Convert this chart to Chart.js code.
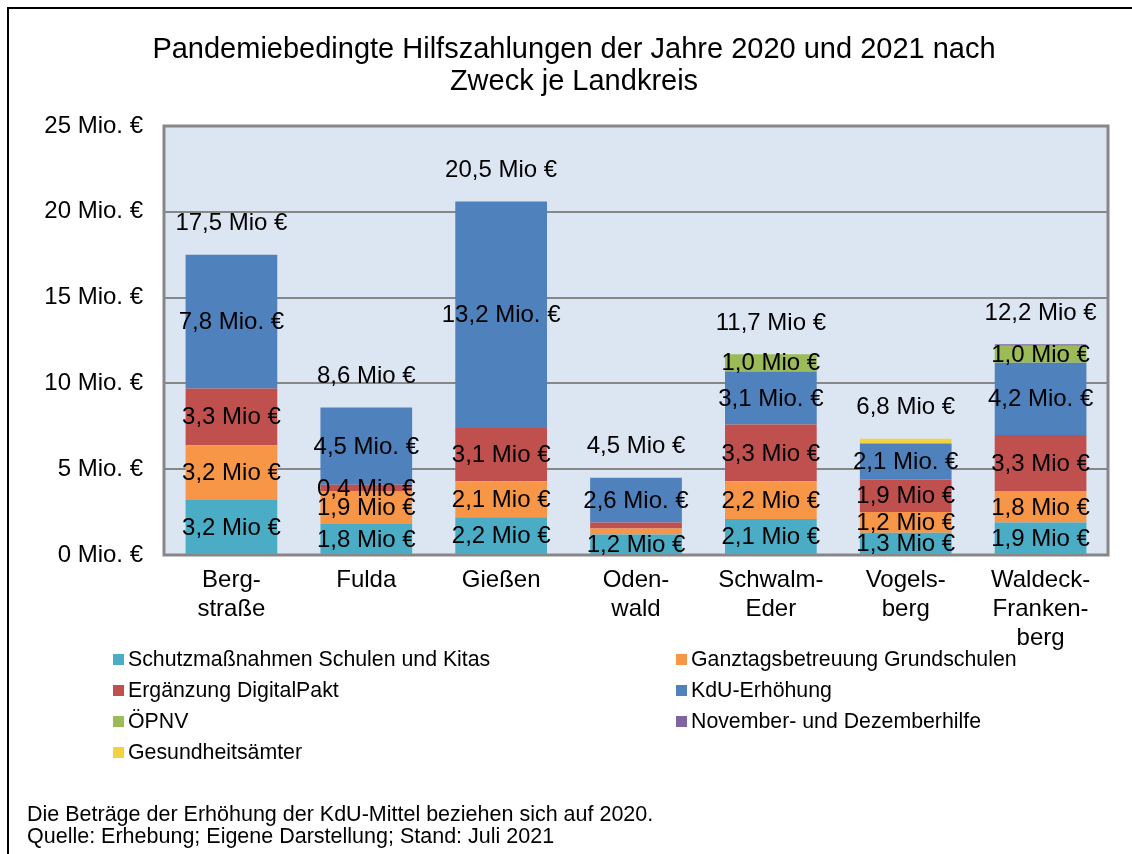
<!DOCTYPE html>
<html>
<head>
<meta charset="utf-8">
<script src="https://cdn.jsdelivr.net/npm/chart.js@4.4.1/dist/chart.umd.min.js"></script>
<style>
  body { margin: 0; background: #fff; font-family: "Liberation Sans", Arial, sans-serif; color: #000; }
  #wrap { position: relative; width: 1132px; height: 854px; overflow: hidden; }
  #frame { position: absolute; left: 7px; top: 7px; width: 1300px; height: 1000px; border-left: 2px solid #000; border-top: 2px solid #000; }
  #chart { position: absolute; left: 0; top: 0; }
  #title { position: absolute; left: 8px; width: 1132px; top: 32px; text-align: center; font-size: 29px; line-height: 32px; }
  #legend { position: absolute; left: 113px; top: 644px; width: 1000px; font-size: 21.3px; }
  .item { position: absolute; white-space: nowrap; line-height: 30px; }
  .box { display: inline-block; width: 11px; height: 11px; margin-right: 4px; vertical-align: 1px; }
  #notes { position: absolute; left: 27px; top: 803px; font-size: 21.5px; line-height: 22px; }
</style>
</head>
<body>
<div id="wrap">
  <div id="frame"></div>
  <canvas id="chart" width="1132" height="854"></canvas>
  <div id="title">Pandemiebedingte Hilfszahlungen der Jahre 2020 und 2021 nach<br>Zweck je Landkreis</div>
  <div id="legend"></div>
  <div id="notes">Die Beträge der Erhöhung der KdU-Mittel beziehen sich auf 2020.<br>Quelle: Erhebung; Eigene Darstellung; Stand: Juli 2021</div>
</div>
<script>
// Landkreise
const districts = [["Berg-", "straße"], "Fulda", "Gießen", ["Oden-", "wald"], ["Schwalm-", "Eder"], ["Vogels-", "berg"], ["Waldeck-", "Franken-", "berg"]];

// values in Mio. €
const schutz      = [3.2, 1.8, 2.2, 1.2, 2.1, 1.3, 1.9];
const ganztag     = [3.2, 1.9, 2.1, 0.35, 2.2, 1.2, 1.8];
const digitalpakt = [3.3, 0.4, 3.1, 0.35, 3.3, 1.9, 3.3];
const kdu         = [7.8, 4.5, 13.2, 2.6, 3.1, 2.1, 4.2];
const oepnv       = [0, 0, 0, 0, 1.0, 0, 1.0];
const novDez      = [0, 0, 0, 0, 0, 0, 0.08];
const gesundheit  = [0, 0, 0, 0, 0, 0.27, 0];

const totals = [17.5, 8.6, 20.5, 4.5, 11.7, 6.8, 12.2];
const yTicks = [0, 5, 10, 15, 20, 25];

const series = [
    { name: "Schutzmaßnahmen Schulen und Kitas", data: schutz, color: "#4BACC6", unit: "Mio €" },
    { name: "Ganztagsbetreuung Grundschulen", data: ganztag, color: "#F79646", unit: "Mio €" },
    { name: "Ergänzung DigitalPakt", data: digitalpakt, color: "#C0504D", unit: "Mio €" },
    { name: "KdU-Erhöhung", data: kdu, color: "#4F81BD", unit: "Mio. €" },
    { name: "ÖPNV", data: oepnv, color: "#9BBB59", unit: "Mio €" },
    { name: "November- und Dezemberhilfe", data: novDez, color: "#8064A2", unit: "Mio €" },
    { name: "Gesundheitsämter", data: gesundheit, color: "#F2D23F", unit: "Mio €" },
];

const FONT = "Liberation Sans, Arial, sans-serif";
const fmt = (v) => v.toFixed(1).replace(".", ",");

// legend, two columns
const legend = document.getElementById("legend");
series.forEach((s, i) => {
    const el = document.createElement("div");
    el.className = "item";
    el.style.left = (i % 2 ? 563 : 0) + "px";
    el.style.top = Math.floor(i / 2) * 31 + "px";
    el.innerHTML = `<span class="box" style="background:${s.color}"></span>${s.name}`;
    legend.appendChild(el);
});

const plotBg = {
    id: "plotBg",
    beforeDraw(chart) {
        const { ctx, chartArea: a } = chart;
        ctx.save();
        ctx.fillStyle = "#DCE6F2";
        ctx.fillRect(a.left, a.top, a.right - a.left, a.bottom - a.top);
        ctx.restore();
    },
    beforeDatasetsDraw(chart) {
        const { ctx, chartArea: a } = chart;
        ctx.save();
        ctx.strokeStyle = "#878787";
        ctx.lineWidth = 3;
        ctx.strokeRect(a.left, a.top, a.right - a.left, a.bottom - a.top);
        ctx.restore();
    },
};

const valueLabels = {
    id: "valueLabels",
    afterDatasetsDraw(chart) {
        const ctx = chart.ctx;
        ctx.save();
        ctx.font = `24px ${FONT}`;
        ctx.fillStyle = "#000";
        ctx.textAlign = "center";
        ctx.textBaseline = "middle";
        chart.data.datasets.forEach((ds, i) => {
            chart.getDatasetMeta(i).data.forEach((bar, j) => {
                const v = ds.data[j];
                if (v < 0.4) return;
                ctx.fillText(`${fmt(v)} ${series[i].unit}`, bar.x, (bar.y + bar.base) / 2 + 1);
            });
        });
        const y = chart.scales.y;
        const x = chart.scales.x;
        totals.forEach((t, j) => {
            let top = 0;
            series.forEach((s) => { top += s.data[j]; });
            ctx.fillText(`${fmt(t)} Mio €`, x.getPixelForValue(j), y.getPixelForValue(top) - 31);
        });
        ctx.restore();
    },
};

new Chart(document.getElementById("chart"), {
    type: "bar",
    data: {
        labels: districts,
        datasets: series.map((s) => ({
            label: s.name,
            data: s.data,
            backgroundColor: s.color,
            borderWidth: 0,
            barPercentage: 0.68,
            categoryPercentage: 1,
        })),
    },
    options: {
        responsive: false,
        animation: false,
        layout: { padding: { top: 126, right: 24, left: 0, bottom: 0 } },
        plugins: { legend: { display: false }, tooltip: { enabled: false } },
        scales: {
            x: {
                stacked: true,
                grid: { display: false },
                border: { display: false },
                ticks: { color: "#000", font: { family: FONT, size: 24, lineHeight: 1.2 }, padding: 3, maxRotation: 0, autoSkip: false },
                afterFit: (s) => { s.height = 299; },
            },
            y: {
                stacked: true,
                min: 0,
                max: 25,
                afterBuildTicks: (s) => { s.ticks = yTicks.map((v) => ({ value: v })); },
                grid: { color: "#878787", lineWidth: 2, drawTicks: false },
                border: { display: false },
                ticks: { color: "#000", font: { family: FONT, size: 24 }, padding: 21, callback: (v) => `${v} Mio. €` },
                afterFit: (s) => { s.width = 164; },
            },
        },
    },
    plugins: [plotBg, valueLabels],
});
</script>
</body>
</html>
